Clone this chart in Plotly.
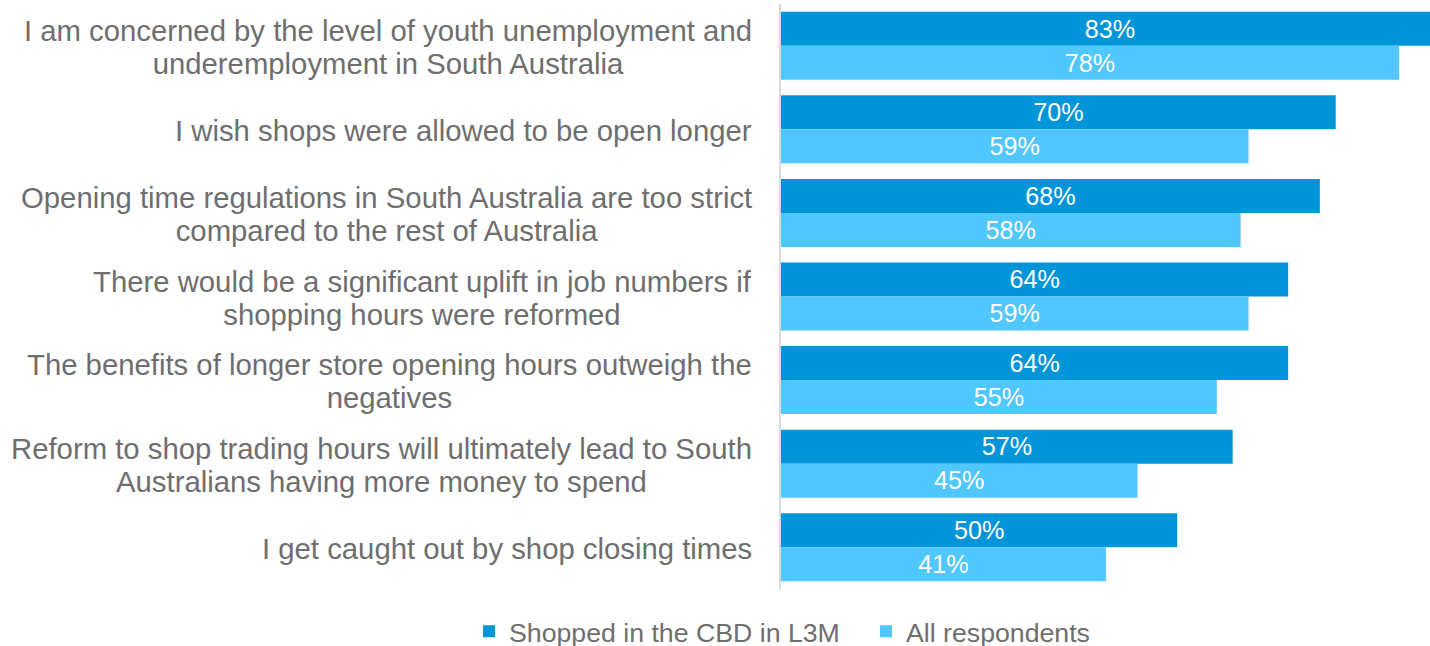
import plotly.graph_objects as go

categories = [
    "I am concerned by the level of youth unemployment and<br>underemployment in South Australia",
    "I wish shops were allowed to be open longer",
    "Opening time regulations in South Australia are too strict<br>compared to the rest of Australia",
    "There would be a significant uplift in job numbers if<br>shopping hours were reformed",
    "The benefits of longer store opening hours outweigh the<br>negatives",
    "Reform to shop trading hours will ultimately lead to South<br>Australians having more money to spend",
    "I get caught out by shop closing times",
]
cbd_values = [83, 70, 68, 64, 64, 57, 50]
all_values = [78, 59, 58, 59, 55, 45, 41]
series_names = ["Shopped in the CBD in L3M", "All respondents"]

DARK = "#0095D9"
LIGHT = "#50C7FF"
GRAY = "#6E6E6E"
FONT = "Liberation Sans, Arial, sans-serif"
LABEL_PX = 29.3

fig = go.Figure()
for name, vals, col, lg in [(series_names[0], cbd_values, DARK, "legend"),
                            (series_names[1], all_values, LIGHT, "legend2")]:
    fig.add_trace(go.Bar(
        y=categories, x=vals, name=name, orientation="h", legend=lg,
        marker=dict(color=col, line=dict(width=0)),
        text=[f"{v}%" for v in vals], textposition="inside",
        insidetextanchor="middle",
        textfont=dict(color="white", size=28.8, family=FONT),
        cliponaxis=True,
    ))

for c in categories:
    styled = "<br>".join(
        f"<span style='font-size:{LABEL_PX}px'>{line}</span>" for line in c.split("<br>")
    )
    fig.add_annotation(
        x=0, xref="paper", y=c, yref="y", xanchor="right", yanchor="middle",
        xshift=-27, yshift=-1, text=styled, align="center", showarrow=False,
        font=dict(size=25.4, color=GRAY, family=FONT),
    )

legend_common = dict(orientation="h", xref="container", yref="container",
                     xanchor="left", y=0.0225, yanchor="middle",
                     font=dict(size=26.7, color=GRAY, family=FONT),
                     itemwidth=30, bgcolor="rgba(0,0,0,0)")

fig.update_layout(
    width=1430, height=646,
    margin=dict(l=781, r=0, t=4, b=57, autoexpand=False),
    paper_bgcolor="white", plot_bgcolor="white",
    barmode="group", bargap=0.186, bargroupgap=0,
    showlegend=True,
    legend=dict(x=469 / 1430, **legend_common),
    legend2=dict(x=866 / 1430, **legend_common),
    xaxis=dict(range=[0, 81.9], visible=False, fixedrange=True),
    yaxis=dict(autorange="reversed", showticklabels=False, ticks="",
               showline=True, linecolor="#D9D9D9", linewidth=2,
               showgrid=False, zeroline=False, fixedrange=True),
)

fig.write_html("out.html", config={"displayModeBar": False},
               post_script="document.body.style.margin='0';")
